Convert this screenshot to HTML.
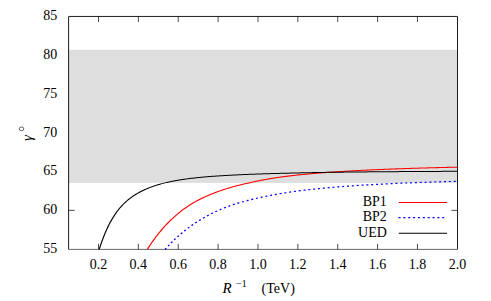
<!DOCTYPE html>
<html><head><meta charset="utf-8"><title>plot</title>
<style>
html,body{margin:0;padding:0;background:#fff;}
body{width:491px;height:301px;overflow:hidden;font-family:"Liberation Serif",serif;}
svg{display:block;}
</style></head><body>
<svg width="491" height="301" viewBox="0 0 491 301">
<rect width="491" height="301" fill="#fff"/>
<rect x="68.6" y="49.8" width="388.9" height="133.1" fill="#dedede"/>
<path d="M98.50,249.4v-5.6M98.50,16.45v5.6M138.37,249.4v-5.6M138.37,16.45v5.6M178.24,249.4v-5.6M178.24,16.45v5.6M218.10,249.4v-5.6M218.10,16.45v5.6M257.97,249.4v-5.6M257.97,16.45v5.6M297.84,249.4v-5.6M297.84,16.45v5.6M337.71,249.4v-5.6M337.71,16.45v5.6M377.58,249.4v-5.6M377.58,16.45v5.6M417.45,249.4v-5.6M417.45,16.45v5.6" stroke="#000" stroke-width="0.7" fill="none"/>
<path d="M68.6,210.38h6M457.5,210.38h-6" stroke="#000" stroke-width="0.7" fill="none"/>
<path d="M68.6,249.4H457.5" stroke="#000" stroke-width="0.6" fill="none"/>
<path d="M68.6,249.4V16.45H457.5V249.4" stroke="#111" stroke-width="0.95" fill="none" stroke-linejoin="miter"/>
<g transform="scale(1.2,1)" fill="none" stroke-linejoin="round">
<path d="M122.70,249.40 L123.33,248.24 L124.17,246.72 L125.00,245.23 L125.83,243.77 L126.67,242.33 L127.50,240.91 L128.33,239.52 L129.17,238.16 L130.00,236.83 L130.83,235.53 L131.67,234.25 L132.50,233.00 L133.33,231.78 L134.17,230.58 L135.00,229.41 L135.83,228.26 L136.67,227.14 L137.50,226.05 L138.33,224.98 L139.17,223.93 L140.00,222.90 L140.83,221.89 L141.67,220.90 L142.50,219.93 L143.33,218.98 L144.17,218.05 L145.00,217.14 L145.83,216.24 L146.67,215.36 L147.50,214.50 L148.33,213.66 L149.17,212.83 L150.00,212.02 L150.83,211.23 L151.67,210.46 L152.50,209.70 L153.33,208.96 L154.17,208.24 L155.00,207.53 L155.83,206.84 L156.67,206.17 L157.50,205.51 L158.33,204.87 L159.17,204.25 L160.00,203.64 L160.83,203.04 L161.67,202.46 L162.50,201.89 L163.33,201.33 L164.17,200.79 L165.00,200.26 L165.83,199.74 L166.67,199.23 L167.50,198.74 L168.33,198.25 L169.17,197.77 L170.00,197.30 L170.83,196.84 L171.67,196.39 L172.50,195.95 L173.33,195.51 L174.17,195.09 L175.00,194.67 L175.83,194.25 L176.67,193.85 L177.50,193.45 L178.33,193.06 L179.17,192.68 L180.00,192.30 L180.83,191.93 L181.67,191.57 L182.50,191.21 L183.33,190.86 L184.17,190.51 L185.00,190.17 L185.83,189.84 L186.67,189.52 L187.50,189.19 L188.33,188.88 L189.17,188.57 L190.00,188.27 L190.83,187.97 L191.67,187.68 L192.50,187.39 L193.33,187.11 L194.17,186.84 L195.00,186.57 L195.83,186.30 L196.67,186.04 L197.50,185.79 L198.33,185.54 L199.17,185.29 L200.00,185.04 L200.83,184.80 L201.67,184.56 L202.50,184.32 L203.33,184.08 L204.17,183.85 L205.00,183.61 L205.83,183.37 L206.67,183.14 L207.50,182.91 L208.33,182.68 L209.17,182.45 L210.00,182.22 L210.83,182.00 L211.67,181.78 L212.50,181.56 L213.33,181.34 L214.17,181.13 L215.00,180.92 L215.83,180.72 L216.67,180.52 L217.50,180.32 L218.33,180.13 L219.17,179.94 L220.00,179.76 L220.83,179.57 L221.67,179.39 L222.50,179.22 L223.33,179.04 L224.17,178.87 L225.00,178.70 L225.83,178.54 L226.67,178.37 L227.50,178.21 L228.33,178.05 L229.17,177.90 L230.00,177.75 L230.83,177.60 L231.67,177.45 L232.50,177.30 L233.33,177.16 L234.17,177.02 L235.00,176.88 L235.83,176.75 L236.67,176.61 L237.50,176.48 L238.33,176.36 L239.17,176.23 L240.00,176.11 L240.83,175.99 L241.67,175.87 L242.50,175.75 L243.33,175.64 L244.17,175.53 L245.00,175.42 L245.83,175.31 L246.67,175.20 L247.50,175.10 L248.33,174.99 L249.17,174.89 L250.00,174.79 L250.83,174.69 L251.67,174.59 L252.50,174.49 L253.33,174.39 L254.17,174.30 L255.00,174.21 L255.83,174.11 L256.67,174.02 L257.50,173.93 L258.33,173.84 L259.17,173.75 L260.00,173.67 L260.83,173.58 L261.67,173.49 L262.50,173.41 L263.33,173.33 L264.17,173.24 L265.00,173.16 L265.83,173.08 L266.67,173.00 L267.50,172.92 L268.33,172.85 L269.17,172.77 L270.00,172.69 L270.83,172.62 L271.67,172.55 L272.50,172.47 L273.33,172.40 L274.17,172.33 L275.00,172.26 L275.83,172.19 L276.67,172.12 L277.50,172.05 L278.33,171.98 L279.17,171.91 L280.00,171.85 L280.83,171.78 L281.67,171.72 L282.50,171.65 L283.33,171.59 L284.17,171.53 L285.00,171.47 L285.83,171.40 L286.67,171.34 L287.50,171.28 L288.33,171.22 L289.17,171.17 L290.00,171.11 L290.83,171.05 L291.67,170.99 L292.50,170.94 L293.33,170.88 L294.17,170.82 L295.00,170.77 L295.83,170.72 L296.67,170.66 L297.50,170.61 L298.33,170.56 L299.17,170.50 L300.00,170.45 L300.83,170.40 L301.67,170.35 L302.50,170.30 L303.33,170.25 L304.17,170.20 L305.00,170.15 L305.83,170.11 L306.67,170.06 L307.50,170.01 L308.33,169.97 L309.17,169.92 L310.00,169.87 L310.83,169.83 L311.67,169.78 L312.50,169.74 L313.33,169.69 L314.17,169.65 L315.00,169.61 L315.83,169.56 L316.67,169.52 L317.50,169.48 L318.33,169.44 L319.17,169.40 L320.00,169.36 L320.83,169.32 L321.67,169.28 L322.50,169.24 L323.33,169.20 L324.17,169.16 L325.00,169.12 L325.83,169.08 L326.67,169.04 L327.50,169.01 L328.33,168.97 L329.17,168.93 L330.00,168.89 L330.83,168.86 L331.67,168.82 L332.50,168.79 L333.33,168.75 L334.17,168.72 L335.00,168.68 L335.83,168.65 L336.67,168.61 L337.50,168.58 L338.33,168.55 L339.17,168.51 L340.00,168.48 L340.83,168.45 L341.67,168.41 L342.50,168.38 L343.33,168.35 L344.17,168.32 L345.00,168.29 L345.83,168.26 L346.67,168.23 L347.50,168.19 L348.33,168.16 L349.17,168.13 L350.00,168.10 L350.83,168.07 L351.67,168.05 L352.50,168.02 L353.33,167.99 L354.17,167.96 L355.00,167.93 L355.83,167.90 L356.67,167.87 L357.50,167.85 L358.33,167.82 L359.17,167.79 L360.00,167.77 L360.83,167.74 L361.67,167.71 L362.50,167.69 L363.33,167.66 L364.17,167.63 L365.00,167.61 L365.83,167.58 L366.67,167.56 L367.50,167.53 L368.33,167.51 L369.17,167.48 L370.00,167.46 L370.83,167.43 L371.67,167.41 L372.50,167.38 L373.33,167.36 L374.17,167.34 L375.00,167.31 L375.83,167.29 L376.67,167.27 L377.50,167.24 L378.33,167.22 L379.17,167.20 L380.00,167.18 L380.83,167.15 L381.25,167.14" stroke="#ff0000" stroke-width="1.05"/>
<path d="M137.65,249.40 L138.33,248.46 L139.17,247.34 L140.00,246.24 L140.83,245.17 L141.67,244.11 L142.50,243.07 L143.33,242.05 L144.17,241.06 L145.00,240.08 L145.83,239.12 L146.67,238.18 L147.50,237.25 L148.33,236.34 L149.17,235.45 L150.00,234.58 L150.83,233.72 L151.67,232.88 L152.50,232.06 L153.33,231.25 L154.17,230.45 L155.00,229.67 L155.83,228.90 L156.67,228.15 L157.50,227.41 L158.33,226.68 L159.17,225.96 L160.00,225.25 L160.83,224.56 L161.67,223.88 L162.50,223.21 L163.33,222.55 L164.17,221.90 L165.00,221.26 L165.83,220.63 L166.67,220.01 L167.50,219.40 L168.33,218.80 L169.17,218.21 L170.00,217.64 L170.83,217.07 L171.67,216.51 L172.50,215.96 L173.33,215.42 L174.17,214.89 L175.00,214.37 L175.83,213.86 L176.67,213.36 L177.50,212.87 L178.33,212.38 L179.17,211.91 L180.00,211.45 L180.83,210.99 L181.67,210.55 L182.50,210.11 L183.33,209.68 L184.17,209.26 L185.00,208.84 L185.83,208.44 L186.67,208.04 L187.50,207.64 L188.33,207.26 L189.17,206.88 L190.00,206.51 L190.83,206.14 L191.67,205.78 L192.50,205.43 L193.33,205.09 L194.17,204.75 L195.00,204.42 L195.83,204.10 L196.67,203.78 L197.50,203.47 L198.33,203.17 L199.17,202.87 L200.00,202.58 L200.83,202.29 L201.67,202.01 L202.50,201.73 L203.33,201.46 L204.17,201.19 L205.00,200.93 L205.83,200.67 L206.67,200.41 L207.50,200.16 L208.33,199.91 L209.17,199.66 L210.00,199.42 L210.83,199.18 L211.67,198.94 L212.50,198.70 L213.33,198.47 L214.17,198.24 L215.00,198.01 L215.83,197.79 L216.67,197.57 L217.50,197.35 L218.33,197.13 L219.17,196.92 L220.00,196.71 L220.83,196.50 L221.67,196.30 L222.50,196.10 L223.33,195.90 L224.17,195.70 L225.00,195.51 L225.83,195.32 L226.67,195.13 L227.50,194.94 L228.33,194.75 L229.17,194.57 L230.00,194.39 L230.83,194.21 L231.67,194.04 L232.50,193.86 L233.33,193.69 L234.17,193.52 L235.00,193.35 L235.83,193.19 L236.67,193.03 L237.50,192.87 L238.33,192.71 L239.17,192.55 L240.00,192.40 L240.83,192.24 L241.67,192.09 L242.50,191.94 L243.33,191.80 L244.17,191.65 L245.00,191.51 L245.83,191.37 L246.67,191.23 L247.50,191.10 L248.33,190.96 L249.17,190.83 L250.00,190.70 L250.83,190.57 L251.67,190.45 L252.50,190.33 L253.33,190.20 L254.17,190.08 L255.00,189.97 L255.83,189.85 L256.67,189.74 L257.50,189.63 L258.33,189.51 L259.17,189.40 L260.00,189.30 L260.83,189.19 L261.67,189.09 L262.50,188.98 L263.33,188.88 L264.17,188.78 L265.00,188.68 L265.83,188.58 L266.67,188.48 L267.50,188.38 L268.33,188.29 L269.17,188.20 L270.00,188.10 L270.83,188.01 L271.67,187.92 L272.50,187.83 L273.33,187.74 L274.17,187.65 L275.00,187.57 L275.83,187.48 L276.67,187.39 L277.50,187.31 L278.33,187.23 L279.17,187.14 L280.00,187.06 L280.83,186.98 L281.67,186.90 L282.50,186.82 L283.33,186.74 L284.17,186.67 L285.00,186.59 L285.83,186.51 L286.67,186.44 L287.50,186.36 L288.33,186.29 L289.17,186.22 L290.00,186.15 L290.83,186.07 L291.67,186.00 L292.50,185.93 L293.33,185.86 L294.17,185.80 L295.00,185.73 L295.83,185.66 L296.67,185.59 L297.50,185.53 L298.33,185.46 L299.17,185.40 L300.00,185.34 L300.83,185.27 L301.67,185.21 L302.50,185.15 L303.33,185.09 L304.17,185.03 L305.00,184.97 L305.83,184.91 L306.67,184.85 L307.50,184.79 L308.33,184.74 L309.17,184.68 L310.00,184.62 L310.83,184.57 L311.67,184.51 L312.50,184.46 L313.33,184.40 L314.17,184.35 L315.00,184.30 L315.83,184.25 L316.67,184.19 L317.50,184.14 L318.33,184.09 L319.17,184.04 L320.00,183.99 L320.83,183.94 L321.67,183.89 L322.50,183.84 L323.33,183.80 L324.17,183.75 L325.00,183.70 L325.83,183.65 L326.67,183.61 L327.50,183.56 L328.33,183.52 L329.17,183.47 L330.00,183.43 L330.83,183.38 L331.67,183.34 L332.50,183.30 L333.33,183.25 L334.17,183.21 L335.00,183.17 L335.83,183.13 L336.67,183.09 L337.50,183.04 L338.33,183.00 L339.17,182.96 L340.00,182.92 L340.83,182.88 L341.67,182.84 L342.50,182.81 L343.33,182.77 L344.17,182.73 L345.00,182.69 L345.83,182.65 L346.67,182.62 L347.50,182.58 L348.33,182.54 L349.17,182.51 L350.00,182.47 L350.83,182.44 L351.67,182.40 L352.50,182.37 L353.33,182.33 L354.17,182.30 L355.00,182.26 L355.83,182.23 L356.67,182.20 L357.50,182.16 L358.33,182.13 L359.17,182.10 L360.00,182.06 L360.83,182.03 L361.67,182.00 L362.50,181.97 L363.33,181.94 L364.17,181.91 L365.00,181.88 L365.83,181.85 L366.67,181.82 L367.50,181.79 L368.33,181.76 L369.17,181.73 L370.00,181.70 L370.83,181.67 L371.67,181.64 L372.50,181.61 L373.33,181.58 L374.17,181.55 L375.00,181.53 L375.83,181.50 L376.67,181.47 L377.50,181.44 L378.33,181.42 L379.17,181.39 L380.00,181.36 L380.83,181.34 L381.25,181.32" stroke="#0000ff" stroke-width="1.18" stroke-dasharray="1.7,2.35"/>
<path d="M82.66,249.40 L83.33,246.91 L84.17,243.95 L85.00,241.12 L85.83,238.42 L86.67,235.84 L87.50,233.39 L88.33,231.05 L89.17,228.82 L90.00,226.70 L90.83,224.68 L91.67,222.75 L92.50,220.92 L93.33,219.17 L94.17,217.51 L95.00,215.92 L95.83,214.41 L96.67,212.97 L97.50,211.59 L98.33,210.27 L99.17,209.02 L100.00,207.82 L100.83,206.67 L101.67,205.58 L102.50,204.53 L103.33,203.53 L104.17,202.57 L105.00,201.65 L105.83,200.77 L106.67,199.92 L107.50,199.11 L108.33,198.33 L109.17,197.59 L110.00,196.87 L110.83,196.18 L111.67,195.51 L112.50,194.87 L113.33,194.26 L114.17,193.66 L115.00,193.09 L115.83,192.53 L116.67,191.99 L117.50,191.47 L118.33,190.97 L119.17,190.49 L120.00,190.02 L120.83,189.56 L121.67,189.12 L122.50,188.69 L123.33,188.28 L124.17,187.87 L125.00,187.48 L125.83,187.11 L126.67,186.74 L127.50,186.38 L128.33,186.04 L129.17,185.71 L130.00,185.38 L130.83,185.07 L131.67,184.76 L132.50,184.47 L133.33,184.18 L134.17,183.90 L135.00,183.63 L135.83,183.37 L136.67,183.12 L137.50,182.87 L138.33,182.64 L139.17,182.40 L140.00,182.18 L140.83,181.96 L141.67,181.75 L142.50,181.54 L143.33,181.34 L144.17,181.14 L145.00,180.95 L145.83,180.77 L146.67,180.59 L147.50,180.41 L148.33,180.24 L149.17,180.07 L150.00,179.91 L150.83,179.75 L151.67,179.59 L152.50,179.44 L153.33,179.29 L154.17,179.15 L155.00,179.01 L155.83,178.87 L156.67,178.74 L157.50,178.61 L158.33,178.48 L159.17,178.36 L160.00,178.24 L160.83,178.13 L161.67,178.01 L162.50,177.90 L163.33,177.79 L164.17,177.69 L165.00,177.59 L165.83,177.49 L166.67,177.39 L167.50,177.29 L168.33,177.20 L169.17,177.11 L170.00,177.02 L170.83,176.93 L171.67,176.85 L172.50,176.76 L173.33,176.68 L174.17,176.60 L175.00,176.52 L175.83,176.44 L176.67,176.37 L177.50,176.30 L178.33,176.22 L179.17,176.15 L180.00,176.08 L180.83,176.02 L181.67,175.95 L182.50,175.88 L183.33,175.82 L184.17,175.76 L185.00,175.70 L185.83,175.64 L186.67,175.58 L187.50,175.52 L188.33,175.46 L189.17,175.40 L190.00,175.35 L190.83,175.30 L191.67,175.24 L192.50,175.19 L193.33,175.14 L194.17,175.09 L195.00,175.04 L195.83,174.99 L196.67,174.94 L197.50,174.89 L198.33,174.84 L199.17,174.80 L200.00,174.75 L200.83,174.70 L201.67,174.66 L202.50,174.61 L203.33,174.57 L204.17,174.53 L205.00,174.49 L205.83,174.44 L206.67,174.40 L207.50,174.36 L208.33,174.32 L209.17,174.28 L210.00,174.24 L210.83,174.21 L211.67,174.17 L212.50,174.13 L213.33,174.09 L214.17,174.06 L215.00,174.02 L215.83,173.99 L216.67,173.95 L217.50,173.92 L218.33,173.89 L219.17,173.85 L220.00,173.82 L220.83,173.79 L221.67,173.76 L222.50,173.73 L223.33,173.70 L224.17,173.67 L225.00,173.64 L225.83,173.61 L226.67,173.58 L227.50,173.55 L228.33,173.52 L229.17,173.49 L230.00,173.47 L230.83,173.44 L231.67,173.41 L232.50,173.39 L233.33,173.36 L234.17,173.33 L235.00,173.31 L235.83,173.28 L236.67,173.26 L237.50,173.23 L238.33,173.21 L239.17,173.18 L240.00,173.16 L240.83,173.13 L241.67,173.11 L242.50,173.08 L243.33,173.06 L244.17,173.04 L245.00,173.01 L245.83,172.99 L246.67,172.97 L247.50,172.94 L248.33,172.92 L249.17,172.90 L250.00,172.88 L250.83,172.85 L251.67,172.83 L252.50,172.81 L253.33,172.79 L254.17,172.77 L255.00,172.75 L255.83,172.73 L256.67,172.71 L257.50,172.69 L258.33,172.67 L259.17,172.65 L260.00,172.63 L260.83,172.61 L261.67,172.59 L262.50,172.57 L263.33,172.55 L264.17,172.53 L265.00,172.51 L265.83,172.49 L266.67,172.48 L267.50,172.46 L268.33,172.44 L269.17,172.42 L270.00,172.40 L270.83,172.39 L271.67,172.37 L272.50,172.35 L273.33,172.34 L274.17,172.32 L275.00,172.31 L275.83,172.29 L276.67,172.27 L277.50,172.26 L278.33,172.24 L279.17,172.23 L280.00,172.22 L280.83,172.20 L281.67,172.19 L282.50,172.18 L283.33,172.16 L284.17,172.15 L285.00,172.14 L285.83,172.13 L286.67,172.11 L287.50,172.10 L288.33,172.09 L289.17,172.08 L290.00,172.07 L290.83,172.06 L291.67,172.05 L292.50,172.04 L293.33,172.03 L294.17,172.02 L295.00,172.01 L295.83,171.99 L296.67,171.98 L297.50,171.97 L298.33,171.96 L299.17,171.95 L300.00,171.94 L300.83,171.94 L301.67,171.93 L302.50,171.92 L303.33,171.91 L304.17,171.90 L305.00,171.89 L305.83,171.88 L306.67,171.87 L307.50,171.86 L308.33,171.85 L309.17,171.84 L310.00,171.83 L310.83,171.83 L311.67,171.82 L312.50,171.81 L313.33,171.80 L314.17,171.79 L315.00,171.78 L315.83,171.77 L316.67,171.77 L317.50,171.76 L318.33,171.75 L319.17,171.74 L320.00,171.73 L320.83,171.73 L321.67,171.72 L322.50,171.71 L323.33,171.70 L324.17,171.70 L325.00,171.69 L325.83,171.68 L326.67,171.67 L327.50,171.67 L328.33,171.66 L329.17,171.65 L330.00,171.65 L330.83,171.64 L331.67,171.63 L332.50,171.62 L333.33,171.62 L334.17,171.61 L335.00,171.60 L335.83,171.60 L336.67,171.59 L337.50,171.58 L338.33,171.58 L339.17,171.57 L340.00,171.56 L340.83,171.56 L341.67,171.55 L342.50,171.55 L343.33,171.54 L344.17,171.53 L345.00,171.53 L345.83,171.52 L346.67,171.51 L347.50,171.51 L348.33,171.50 L349.17,171.50 L350.00,171.49 L350.83,171.49 L351.67,171.48 L352.50,171.47 L353.33,171.47 L354.17,171.46 L355.00,171.46 L355.83,171.45 L356.67,171.45 L357.50,171.44 L358.33,171.43 L359.17,171.43 L360.00,171.42 L360.83,171.42 L361.67,171.41 L362.50,171.41 L363.33,171.40 L364.17,171.40 L365.00,171.39 L365.83,171.39 L366.67,171.38 L367.50,171.38 L368.33,171.37 L369.17,171.37 L370.00,171.36 L370.83,171.36 L371.67,171.35 L372.50,171.35 L373.33,171.34 L374.17,171.34 L375.00,171.33 L375.83,171.33 L376.67,171.32 L377.50,171.32 L378.33,171.32 L379.17,171.31 L380.00,171.31 L380.83,171.30 L381.25,171.30" stroke="#000" stroke-width="1.0"/>
<path d="M332.25,202.45H372.58" stroke="#ff0000" stroke-width="1.05"/>
<path d="M332.08,217.7H370.50" stroke="#0000ff" stroke-width="1.18" stroke-dasharray="1.7,2.35"/>
<path d="M332.25,233.25H372.58" stroke="#000" stroke-width="0.95"/>
</g>
<g font-family="'Liberation Serif', serif" font-size="14" fill="#000">
<g text-anchor="middle">
<text x="98.5" y="268.9">0.2</text>
<text x="138.37" y="268.9">0.4</text>
<text x="178.24" y="268.9">0.6</text>
<text x="218.1" y="268.9">0.8</text>
<text x="257.97" y="268.9">1.0</text>
<text x="297.84" y="268.9">1.2</text>
<text x="337.71" y="268.9">1.4</text>
<text x="377.58" y="268.9">1.6</text>
<text x="417.45" y="268.9">1.8</text>
<text x="457.4" y="268.9">2.0</text>
</g>
<g text-anchor="end">
<text x="57.3" y="253">55</text>
<text x="57.3" y="214.2">60</text>
<text x="57.3" y="175.4">65</text>
<text x="57.3" y="136.5">70</text>
<text x="57.3" y="97.7">75</text>
<text x="57.3" y="58.9">80</text>
<text x="57.3" y="20.1">85</text>
<text x="386.8" y="205.95">BP1</text>
<text x="386.8" y="221.4">BP2</text>
<text x="386.8" y="236.6">UED</text>
</g>
<text x="222.5" y="293.4" font-style="italic" font-size="15">R</text>
<text x="236" y="286.8" font-size="10">−1</text>
<text x="261.6" y="293.4">(TeV)</text>
<text x="32" y="141" font-style="italic" font-size="15" transform="rotate(-90 32 141)">γ</text>
</g>
<ellipse cx="21.5" cy="128.85" rx="2.25" ry="1.85" fill="none" stroke="#000" stroke-width="0.6"/>
</svg>
</body></html>
